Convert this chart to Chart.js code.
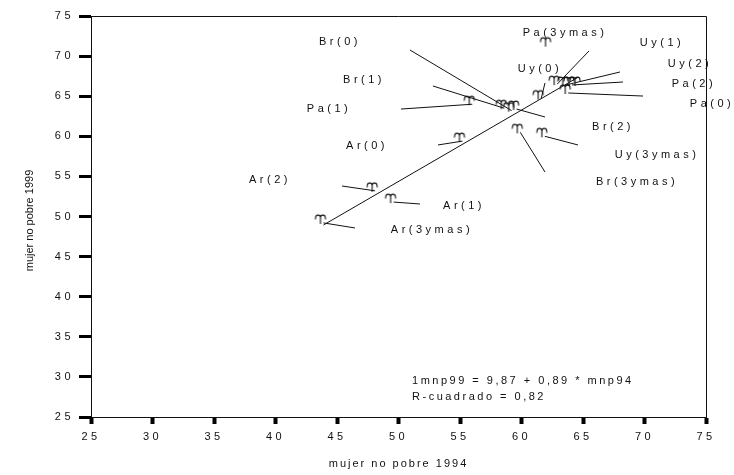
<!DOCTYPE html>
<html>
<head>
<meta charset="utf-8">
<script src="https://cdn.jsdelivr.net/npm/chart.js@4.4.1/dist/chart.umd.min.js"></script>
<style>
  html, body { margin: 0; padding: 0; background: #fff; }
  #wrap { width: 734px; height: 475px; }
</style>
</head>
<body>
<div id="wrap"><canvas id="scatter" width="734" height="475"></canvas></div>
<script>
// one case per country and group
const caseNames = ['Ar(0)', 'Ar(1)', 'Ar(2)', 'Ar(3ymas)', 'Br(0)', 'Br(1)', 'Br(2)', 'Br(3ymas)',
  'Pa(0)', 'Pa(1)', 'Pa(2)', 'Pa(3ymas)', 'Uy(0)', 'Uy(1)', 'Uy(2)', 'Uy(3ymas)', ''];
const mnp94 = [55.2, 49.6, 48.1, 43.9, 59.2, 58.6, 61.9, 59.9, 63.8, 56.0, 64.1, 62.9, 61.6, 63.6, 64.6, 59.6, 62.2];
const mnp99 = [59.4, 51.8, 53.2, 49.2, 63.2, 63.5, 60.0, 60.5, 65.4, 64.0, 66.4, 66.5, 64.7, 66.4, 66.4, 63.4, 71.3];

// where each case name is written, in axis units
const nameX = [47.44, 55.33, 39.55, 52.72, 45.24, 47.20, 67.44, 69.39, 75.49, 44.35, 74.02, 63.54, 61.50, 71.42, 73.70, 71.02, null];
const nameY = [58.79, 51.31, 54.55, 48.32, 71.76, 67.02, 61.16, 54.30, 64.03, 63.40, 66.52, 72.88, 68.39, 71.63, 69.01, 57.67, null];

// far end of the line drawn from each case towards its name
const leadX = [53.21, 51.75, 45.41, 46.46, 50.93, 52.80, 64.59, 61.91, 69.88, 50.20, 68.25, 65.49, 61.91, 68.01, null, 61.91, null];
const leadY = [58.92, 51.56, 53.80, 48.57, 70.76, 66.27, 58.92, 55.55, 65.02, 63.40, 66.77, 70.64, 66.65, 68.02, null, 62.41, null];

// fitted line: mnp99 = a + b * mnp94
const fitIntercept = 9.87;
const fitSlope = 0.89;
const rSquared = 0.82;

const xTitle = 'mujer no pobre 1994';
const yTitle = 'mujer no pobre 1999';

const FONT = '"Liberation Sans", Arial, sans-serif';
const INK = '#111';

function comma(v) {
  return v.toFixed(2).replace('.', ',');
}

// the little ram's-horn marker, stem foot a bit right/below the glyph middle
function makeMarker() {
  const c = document.createElement('canvas');
  c.width = 24; c.height = 24;
  const g = c.getContext('2d');
  const gx = 9, gy = 8, r = 2.4;
  g.strokeStyle = INK;
  g.lineWidth = 1.1;
  g.beginPath();
  g.moveTo(gx, gy + 5);
  g.lineTo(gx, gy - 1.5);
  g.arc(gx - r, gy - 1.5, r, 0, Math.PI, true);
  g.lineTo(gx - 2 * r - 0.3, gy + 0.5);
  g.moveTo(gx, gy - 1.5);
  g.arc(gx + r, gy - 1.5, r, Math.PI, 2 * Math.PI, false);
  g.lineTo(gx + 2 * r + 0.3, gy + 0.5);
  g.stroke();
  return c;
}

const points = mnp94.map((x, i) => ({ x: x, y: mnp99[i] }));
const x0 = Math.min(...mnp94), x1 = Math.max(...mnp94);
const fitLine = [x0, x1].map(x => ({ x: x, y: fitIntercept + fitSlope * x }));

const leaders = [];
caseNames.forEach((n, i) => {
  if (leadX[i] === null) return;
  leaders.push({
    data: [points[i], { x: leadX[i], y: leadY[i] }],
    showLine: true,
    borderColor: INK,
    borderWidth: 1,
    pointRadius: 0
  });
});

const textLayer = {
  id: 'textLayer',
  beforeDraw(chart) {
    // spaced-out digits on the axes
    chart.ctx.letterSpacing = '3.5px';
  },
  afterDraw(chart) {
    const { ctx, chartArea: a, scales: { x, y } } = chart;
    ctx.save();

    // top and right sides of the frame
    ctx.strokeStyle = INK;
    ctx.lineWidth = 1;
    ctx.beginPath();
    ctx.moveTo(a.left, Math.round(a.top) + 0.5);
    ctx.lineTo(Math.round(a.right) + 0.5, Math.round(a.top) + 0.5);
    ctx.lineTo(Math.round(a.right) + 0.5, a.bottom);
    ctx.stroke();

    ctx.fillStyle = INK;
    ctx.font = '11px ' + FONT;
    ctx.textBaseline = 'middle';

    // case names
    ctx.textAlign = 'center';
    ctx.letterSpacing = '3.5px';
    caseNames.forEach((n, i) => {
      if (!n) return;
      ctx.fillText(n, x.getPixelForValue(nameX[i]), y.getPixelForValue(nameY[i]));
    });

    // fit equation
    ctx.textAlign = 'left';
    ctx.letterSpacing = '2.5px';
    const ex = x.getPixelForValue(51.1);
    ctx.fillText('1mnp99 = ' + comma(fitIntercept) + ' + ' + comma(fitSlope) + ' * mnp94', ex, y.getPixelForValue(29.5));
    ctx.fillText('R-cuadrado = ' + comma(rSquared), ex, y.getPixelForValue(27.5));

    // axis titles
    ctx.textAlign = 'center';
    ctx.letterSpacing = '2px';
    ctx.fillText(xTitle, (a.left + a.right) / 2, 464);
    ctx.letterSpacing = '0px';
    ctx.translate(30, (a.top + a.bottom) / 2 + 4);
    ctx.rotate(-Math.PI / 2);
    ctx.fillText(yTitle, 0, 0);

    ctx.restore();
  }
};

const marker = makeMarker();

new Chart(document.getElementById('scatter'), {
  type: 'scatter',
  data: {
    datasets: [
      {
        data: points,
        pointStyle: marker,
        pointRadius: 5
      },
      {
        data: fitLine,
        showLine: true,
        borderColor: INK,
        borderWidth: 1,
        pointRadius: 0
      }
    ].concat(leaders)
  },
  options: {
    responsive: false,
    animation: false,
    events: [],
    layout: { padding: { top: 16, right: 28, bottom: 0, left: 0 } },
    plugins: { legend: { display: false }, tooltip: { enabled: false } },
    scales: {
      x: {
        type: 'linear',
        min: 25,
        max: 75,
        afterFit(s) { s.height = 58; },
        border: { display: true, color: INK, width: 1 },
        grid: { drawOnChartArea: false, drawTicks: true, tickLength: 7, tickWidth: 4, tickColor: '#000' },
        ticks: { stepSize: 5, padding: 6, color: INK, font: { family: FONT, size: 11 } }
      },
      y: {
        type: 'linear',
        min: 25,
        max: 75,
        afterFit(s) { s.width = 91; },
        border: { display: true, color: INK, width: 1 },
        grid: { drawOnChartArea: false, drawTicks: true, tickLength: 12, tickWidth: 3, tickColor: '#000' },
        ticks: { stepSize: 5, padding: 5, color: INK, font: { family: FONT, size: 11 } }
      }
    }
  },
  plugins: [textLayer]
});
</script>
</body>
</html>
